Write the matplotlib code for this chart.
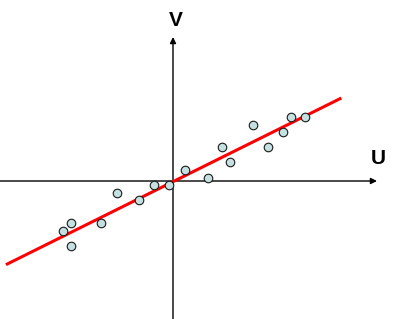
import matplotlib
matplotlib.use("Agg")
import matplotlib.pyplot as plt

# observations, in (U, V) units centred on the axis crossing
u_pts = [-101.7, -109.7, -102.0, -71.7, -56.3, -33.7, -18.7, -3.7,
         11.7, 34.7, 49.0, 57.0, 79.7, 94.7, 109.7, 117.7, 132.3]
v_pts = [-41.7, -49.7, -65.0, -41.7, -11.7, -19.3, -4.3, -4.3,
         11.0, 3.3, 33.7, 18.7, 56.3, 33.7, 48.7, 64.3, 64.0]

# fitted line end points
line_u = [-165.7, 167.0]
line_v = [-83.0, 82.3]

fig = plt.figure(figsize=(3.99, 3.19), dpi=100)
ax = fig.add_axes([0, 0, 1, 1])
ax.set_xlim(-173, 226)
ax.set_ylim(-138, 181)
ax.axis("off")

# axes with arrows
ax.annotate("", xy=(204, 0), xytext=(-173, 0),
            arrowprops=dict(arrowstyle="-|>", color="black", lw=1.0,
                            mutation_scale=9, shrinkA=0, shrinkB=0))
ax.annotate("", xy=(0, 144), xytext=(0, -138),
            arrowprops=dict(arrowstyle="-|>", color="black", lw=1.0,
                            mutation_scale=9, shrinkA=0, shrinkB=0))

ax.plot(line_u, line_v, color="#ff0000", lw=2.2, zorder=3)
ax.scatter(u_pts, v_pts, s=38, facecolor="#c4e0e0", edgecolor="#1a1a1a",
           linewidths=0.8, zorder=4)

ax.text(3, 160, "V", fontsize=15, fontweight="bold", family="Liberation Sans",
        ha="center", va="center")
ax.text(205, 23, "U", fontsize=15, fontweight="bold", family="Liberation Sans",
        ha="center", va="center")

fig.savefig("out.png", dpi=100)
